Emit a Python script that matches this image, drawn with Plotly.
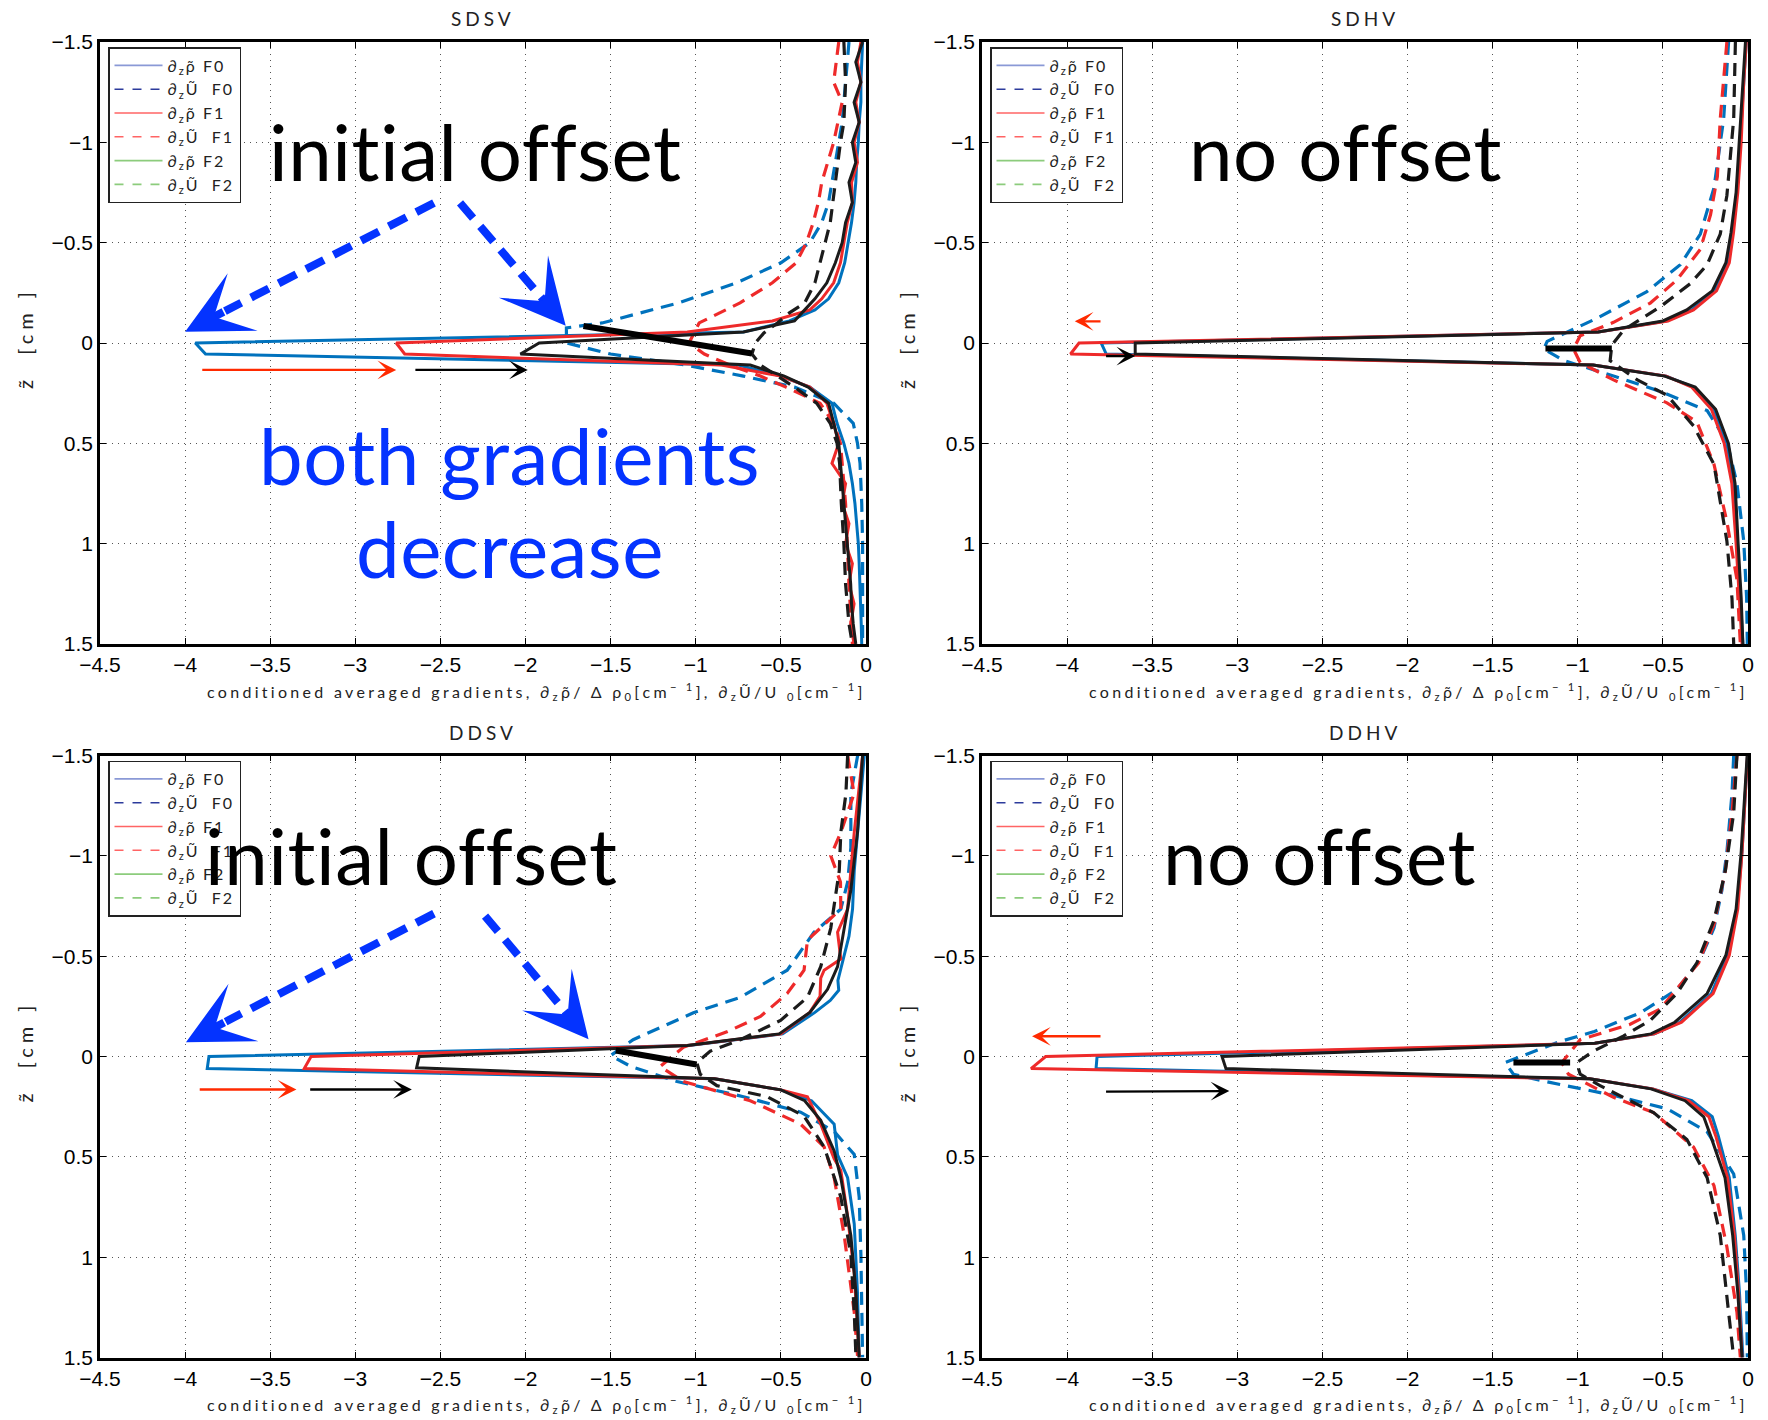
import plotly.graph_objects as go

# ---------------------------------------------------------------- styling
BLUE = '#0072bd'
RED = '#ee2a2a'
BLACK = '#1b1b1b'
ARROW_BLUE = '#0433ff'
ARROW_RED = '#ff2a00'
TEXT_FONT = 'Lato, DejaVu Sans, sans-serif'
TICK_FONT = 'Liberation Sans, Arial, sans-serif'

X_TICKS = [-4.5, -4, -3.5, -3, -2.5, -2, -1.5, -1, -0.5, 0]
Y_TICKS = [-1.5, -1, -0.5, 0, 0.5, 1, 1.5]

LEGEND_LABELS = ['∂<sub>z</sub>ρ̃ F0', '∂<sub>z</sub>Ũ\u00a0 F0', '∂<sub>z</sub>ρ̃ F1',
                 '∂<sub>z</sub>Ũ\u00a0 F1', '∂<sub>z</sub>ρ̃ F2', '∂<sub>z</sub>Ũ\u00a0 F2']
LEGEND_COLORS = ['#8a99d6', '#2c3b9c', '#ff6464', '#ff6464', '#8ccc7c', '#8ccc7c']
LEGEND_DASHES = ['solid', 'dash', 'solid', 'dash', 'solid', 'dash']

# ---------------------------------------------------------------- SDSV
SDSV_Z_RHO = [-1.5, -1.4, -1.3, -1.2, -1.1, -1.0, -0.9, -0.8, -0.7, -0.6, -0.5, -0.4, -0.3, -0.22,
              -0.165, -0.11, -0.055, 0.0, 0.055, 0.11, 0.165, 0.22, 0.3, 0.4, 0.5, 0.6, 0.7, 0.8,
              0.9, 1.0, 1.1, 1.2, 1.3, 1.4, 1.5]
SDSV_RHO_F0 = [-0.02, -0.025, -0.03, -0.03, -0.04, -0.045, -0.055, -0.06, -0.07, -0.085, -0.105,
               -0.125, -0.16, -0.22, -0.30, -0.45, -0.72, -3.94, -3.88, -0.75, -0.50, -0.33, -0.20,
               -0.17, -0.13, -0.10, -0.08, -0.065, -0.055, -0.045, -0.04, -0.035, -0.03, -0.028, -0.025]
SDSV_RHO_F1 = [-0.03, -0.05, -0.03, -0.06, -0.04, -0.07, -0.05, -0.085, -0.08, -0.11, -0.13, -0.15,
               -0.19, -0.26, -0.33, -0.55, -1.05, -2.76, -2.71, -0.85, -0.50, -0.33, -0.23, -0.19,
               -0.16, -0.20, -0.12, -0.14, -0.10, -0.12, -0.08, -0.10, -0.07, -0.09, -0.07]
SDSV_RHO_F2 = [-0.02, -0.06, -0.03, -0.07, -0.04, -0.08, -0.06, -0.10, -0.08, -0.12, -0.14, -0.18,
               -0.23, -0.30, -0.36, -0.42, -0.72, -1.92, -2.03, -0.68, -0.48, -0.34, -0.22, -0.19,
               -0.16, -0.15, -0.14, -0.13, -0.12, -0.11, -0.10, -0.09, -0.085, -0.075, -0.06]
SDSV_Z_U_F0 = [-1.5, -1.3, -1.1, -1.0, -0.9, -0.8, -0.7, -0.6, -0.5, -0.4, -0.3, -0.2, -0.1, -0.075,
               0.0, 0.055, 0.11, 0.165, 0.22, 0.3, 0.4, 0.5, 0.6, 0.8, 1.0, 1.2, 1.5]
SDSV_U_F0 = [-0.10, -0.12, -0.14, -0.16, -0.18, -0.20, -0.22, -0.26, -0.33, -0.50, -0.76, -1.10,
             -1.55, -1.76, -1.76, -1.50, -1.06, -0.72, -0.42, -0.19, -0.075, -0.05, -0.035, -0.025,
             -0.02, -0.02, -0.02]
SDSV_Z_U_F1 = [-1.5, -1.3, -1.2, -1.0, -0.8, -0.7, -0.6, -0.5, -0.4, -0.3, -0.2, -0.1, -0.05, 0.0,
               0.055, 0.11, 0.165, 0.22, 0.3, 0.4, 0.5, 0.6, 0.8, 1.0, 1.2, 1.5]
SDSV_U_F1 = [-0.16, -0.19, -0.14, -0.19, -0.26, -0.28, -0.31, -0.35, -0.41, -0.55, -0.74, -0.98,
             -1.01, -1.04, -0.95, -0.80, -0.62, -0.47, -0.27, -0.19, -0.15, -0.14, -0.12, -0.11,
             -0.10, -0.08]
SDSV_Z_U_F2 = [-1.5, -1.3, -1.1, -1.0, -0.8, -0.6, -0.5, -0.4, -0.3, -0.2, -0.15, -0.1, -0.05, 0.0,
               0.055, 0.11, 0.165, 0.22, 0.3, 0.4, 0.5, 0.6, 0.8, 1.0, 1.2, 1.4, 1.5]
SDSV_U_F2 = [-0.13, -0.12, -0.13, -0.15, -0.18, -0.21, -0.24, -0.27, -0.30, -0.36, -0.45, -0.52,
             -0.60, -0.65, -0.67, -0.62, -0.52, -0.42, -0.29, -0.21, -0.17, -0.155, -0.145, -0.13,
             -0.12, -0.10, -0.08]

# ---------------------------------------------------------------- SDHV
SDHV_Z_RHO = [-1.5, -1.3, -1.0, -0.75, -0.55, -0.4, -0.26, -0.165, -0.11, -0.055, 0.0, 0.055, 0.11,
              0.165, 0.22, 0.33, 0.5, 0.7, 1.0, 1.27, 1.5]
SDHV_RHO_F0 = [-0.01, -0.025, -0.045, -0.065, -0.094, -0.124, -0.2, -0.33, -0.48, -0.88, -3.80,
               -3.77, -0.91, -0.48, -0.32, -0.20, -0.125, -0.084, -0.062, -0.045, -0.03]
SDHV_RHO_F1 = [-0.01, -0.025, -0.04, -0.06, -0.085, -0.11, -0.185, -0.32, -0.47, -0.88, -3.93,
               -3.98, -0.91, -0.48, -0.33, -0.215, -0.14, -0.095, -0.07, -0.05, -0.035]
SDHV_RHO_F2 = [-0.015, -0.03, -0.05, -0.07, -0.10, -0.13, -0.21, -0.36, -0.50, -0.88, -3.60,
               -3.60, -0.91, -0.49, -0.31, -0.19, -0.115, -0.076, -0.058, -0.04, -0.03]
SDHV_Z_U_F0 = [-1.5, -1.117, -0.773, -0.543, -0.39, -0.256, -0.123, -0.008, 0.03, 0.088, 0.164,
               0.241, 0.337, 0.49, 0.70, 0.987, 1.27, 1.5]
SDHV_U_F0 = [-0.114, -0.143, -0.2, -0.28, -0.398, -0.594, -0.888, -1.18, -1.2, -1.08, -0.79,
             -0.516, -0.24, -0.124, -0.065, -0.025, -0.008, -0.004]
SDHV_Z_U_F1 = [-1.5, -1.117, -0.83, -0.64, -0.467, -0.314, -0.199, -0.103, -0.036, 0.03, 0.097,
               0.184, 0.298, 0.394, 0.604, 0.891, 1.178, 1.5]
SDHV_U_F1 = [-0.124, -0.163, -0.18, -0.22, -0.28, -0.418, -0.574, -0.79, -0.986, -1.025, -0.986,
             -0.79, -0.476, -0.30, -0.20, -0.124, -0.065, -0.045]
SDHV_Z_U_F2 = [-1.5, -1.117, -0.735, -0.543, -0.39, -0.295, -0.18, -0.065, 0.01, 0.088, 0.184,
               0.26, 0.413, 0.604, 0.987, 1.274, 1.5]
SDHV_U_F2 = [-0.074, -0.084, -0.124, -0.163, -0.24, -0.34, -0.516, -0.73, -0.80, -0.81, -0.65,
             -0.476, -0.32, -0.2, -0.124, -0.094, -0.084]

# ---------------------------------------------------------------- DDSV
DDSV_Z_RHO_F0 = [-1.5, -1.31, -1.117, -0.926, -0.735, -0.6, -0.43, -0.38, -0.33, -0.28, -0.22,
                 -0.113, -0.055, 0.0, 0.06, 0.111, 0.166, 0.22, 0.337, 0.49, 0.604, 0.834, 1.178, 1.5]
DDSV_RHO_F0 = [-0.01, -0.03, -0.05, -0.069, -0.079, -0.10, -0.15, -0.165, -0.16, -0.21, -0.30,
               -0.49, -1.04, -3.86, -3.87, -0.89, -0.50, -0.32, -0.187, -0.167, -0.108, -0.069,
               -0.05, -0.04]
DDSV_Z_RHO_F1 = [-1.5, -1.27, -1.117, -0.926, -0.735, -0.62, -0.486, -0.43, -0.39, -0.3, -0.22,
                 -0.113, -0.055, 0.0, 0.06, 0.111, 0.166, 0.2, 0.337, 0.51, 0.566, 0.796, 1.08, 1.5]
DDSV_RHO_F1 = [-0.02, -0.05, -0.069, -0.089, -0.108, -0.167, -0.148, -0.246, -0.266, -0.27, -0.33,
               -0.50, -1.05, -3.26, -3.30, -0.89, -0.50, -0.344, -0.266, -0.187, -0.148, -0.108,
               -0.069, -0.04]
DDSV_Z_RHO_F2 = [-1.5, -1.117, -0.83, -0.64, -0.448, -0.335, -0.22, -0.113, -0.055, 0.0, 0.056,
                 0.111, 0.166, 0.22, 0.318, 0.47, 0.604, 0.891, 1.178, 1.5]
DDSV_RHO_F2 = [-0.02, -0.05, -0.089, -0.128, -0.167, -0.226, -0.33, -0.51, -1.05, -2.625, -2.64,
               -0.89, -0.50, -0.36, -0.266, -0.187, -0.148, -0.089, -0.059, -0.04]
DDSV_Z_U_F0 = [-1.5, -1.31, -1.04, -0.869, -0.735, -0.62, -0.43, -0.295, -0.218, -0.084, -0.005,
               0.05, 0.124, 0.2, 0.277, 0.373, 0.488, 0.70, 0.987, 1.5]
DDSV_U_F0 = [-0.049, -0.089, -0.089, -0.108, -0.148, -0.305, -0.463, -0.738, -1.014, -1.368, -1.50,
             -1.38, -1.11, -0.72, -0.384, -0.187, -0.069, -0.04, -0.03, -0.02]
DDSV_Z_U_F1 = [-1.5, -1.31, -1.117, -1.0, -0.87, -0.735, -0.58, -0.43, -0.314, -0.2, -0.123,
               -0.046, 0.05, 0.124, 0.22, 0.337, 0.45, 0.604, 0.891, 1.274, 1.5]
DDSV_U_F1 = [-0.108, -0.07, -0.148, -0.207, -0.15, -0.148, -0.344, -0.364, -0.463, -0.62, -0.817,
             -1.073, -1.21, -1.073, -0.68, -0.384, -0.246, -0.187, -0.128, -0.069, -0.049]
DDSV_Z_U_F2 = [-1.5, -1.31, -1.117, -0.926, -0.64, -0.448, -0.295, -0.18, -0.084, -0.027, 0.03,
               0.088, 0.145, 0.2, 0.297, 0.45, 0.70, 0.987, 1.274, 1.5]
DDSV_U_F2 = [-0.108, -0.118, -0.148, -0.157, -0.207, -0.266, -0.344, -0.502, -0.738, -0.915,
             -0.994, -0.974, -0.876, -0.58, -0.364, -0.246, -0.148, -0.089, -0.069, -0.059]

# ---------------------------------------------------------------- DDHV
DDHV_Z_RHO = [-1.5, -1.31, -1.02, -0.735, -0.505, -0.314, -0.171, -0.113, -0.066, 0.0, 0.06, 0.111,
              0.161, 0.22, 0.3, 0.394, 0.604, 0.891, 1.178, 1.5]
DDHV_RHO_F0 = [-0.003, -0.016, -0.035, -0.065, -0.12, -0.215, -0.40, -0.55, -0.90, -3.824, -3.83,
               -0.93, -0.56, -0.33, -0.21, -0.175, -0.11, -0.075, -0.05, -0.03]
DDHV_RHO_F1 = [-0.003, -0.016, -0.035, -0.06, -0.11, -0.205, -0.39, -0.55, -0.90, -4.126, -4.212,
               -0.93, -0.56, -0.35, -0.23, -0.19, -0.12, -0.08, -0.055, -0.035]
DDHV_RHO_F2 = [-0.005, -0.02, -0.04, -0.07, -0.13, -0.24, -0.43, -0.57, -0.90, -3.09, -3.067,
               -0.93, -0.57, -0.37, -0.26, -0.22, -0.135, -0.09, -0.06, -0.035]
DDHV_Z_U_F0 = [-1.5, -1.31, -1.02, -0.83, -0.64, -0.486, -0.333, -0.218, -0.123, -0.075, 0.03,
               0.088, 0.126, 0.193, 0.26, 0.375, 0.585, 0.891, 1.178, 1.5]
DDHV_U_F0 = [-0.084, -0.094, -0.124, -0.153, -0.2, -0.28, -0.418, -0.633, -0.908, -1.104, -1.427,
             -1.378, -1.18, -0.79, -0.476, -0.24, -0.084, -0.025, -0.008, -0.004]
DDHV_Z_U_F1 = [-1.5, -1.213, -0.926, -0.658, -0.467, -0.237, -0.161, -0.084, 0.03, 0.088, 0.203,
               0.279, 0.451, 0.643, 0.949, 1.274, 1.5]
DDHV_U_F1 = [-0.065, -0.094, -0.133, -0.2, -0.29, -0.516, -0.692, -0.986, -1.094, -1.055, -0.79,
             -0.555, -0.32, -0.2, -0.124, -0.065, -0.045]
DDHV_Z_U_F2 = [-1.5, -1.213, -0.926, -0.677, -0.467, -0.314, -0.18, -0.103, -0.027, 0.03, 0.088,
               0.145, 0.279, 0.413, 0.604, 0.891, 1.274, 1.5]
DDHV_U_F2 = [-0.065, -0.084, -0.133, -0.2, -0.30, -0.418, -0.574, -0.73, -0.908, -1.006, -0.986,
             -0.869, -0.555, -0.359, -0.24, -0.163, -0.114, -0.084]

# markers drawn on top of the profiles: thick tip connector, small shift arrows
SDSV_TIP_LINE = [(-1.66, -0.085), (-0.67, 0.052)]
SDHV_TIP_LINE = [(-1.19, 0.027), (-0.80, 0.027)]
DDSV_TIP_LINE = [(-1.47, -0.03), (-0.995, 0.04)]
DDHV_TIP_LINE = [(-1.378, 0.03), (-1.045, 0.03)]

SDSV_SHIFT_RED = [(-3.908, 0.134), (-2.76, 0.134)]
SDSV_SHIFT_BLACK = [(-2.656, 0.134), (-1.987, 0.134)]
SDHV_SHIFT_RED = [(-3.795, -0.108), (-3.955, -0.108)]
SDHV_SHIFT_BLACK = [(-3.78, 0.065), (-3.60, 0.065)]
DDSV_SHIFT_RED = [(-3.923, 0.164), (-3.346, 0.164)]
DDSV_SHIFT_BLACK = [(-3.274, 0.164), (-2.668, 0.164)]
DDHV_SHIFT_RED = [(-3.795, -0.101), (-4.206, -0.101)]
DDHV_SHIFT_BLACK = [(-3.78, 0.175), (-3.047, 0.172)]

SDSV_POINTERS = [[(-2.538, -0.698), (-4.0, -0.056)], [(-2.385, -0.698), (-1.764, -0.086)]]
DDSV_POINTERS = [[(-2.538, -0.712), (-3.995, -0.071)], [(-2.238, -0.70), (-1.63, -0.086)]]

FIG_W, FIG_H = 1768, 1420
# plot-area boxes in pixels: left, right, top, bottom
PANELS = [
    dict(title='SDSV', box=(100, 866, 42, 644), xa='x', ya='y', legend='legend',
         rho=[(SDSV_Z_RHO, SDSV_RHO_F0), (SDSV_Z_RHO, SDSV_RHO_F1), (SDSV_Z_RHO, SDSV_RHO_F2)],
         u=[(SDSV_Z_U_F0, SDSV_U_F0), (SDSV_Z_U_F1, SDSV_U_F1), (SDSV_Z_U_F2, SDSV_U_F2)],
         tip=SDSV_TIP_LINE, red=SDSV_SHIFT_RED, black=SDSV_SHIFT_BLACK, pointers=SDSV_POINTERS),
    dict(title='SDHV', box=(982, 1748, 42, 644), xa='x2', ya='y2', legend='legend2',
         rho=[(SDHV_Z_RHO, SDHV_RHO_F0), (SDHV_Z_RHO, SDHV_RHO_F1), (SDHV_Z_RHO, SDHV_RHO_F2)],
         u=[(SDHV_Z_U_F0, SDHV_U_F0), (SDHV_Z_U_F1, SDHV_U_F1), (SDHV_Z_U_F2, SDHV_U_F2)],
         tip=SDHV_TIP_LINE, red=SDHV_SHIFT_RED, black=SDHV_SHIFT_BLACK, pointers=[]),
    dict(title='DDSV', box=(100, 866, 755.5, 1357.6), xa='x3', ya='y3', legend='legend3',
         rho=[(DDSV_Z_RHO_F0, DDSV_RHO_F0), (DDSV_Z_RHO_F1, DDSV_RHO_F1), (DDSV_Z_RHO_F2, DDSV_RHO_F2)],
         u=[(DDSV_Z_U_F0, DDSV_U_F0), (DDSV_Z_U_F1, DDSV_U_F1), (DDSV_Z_U_F2, DDSV_U_F2)],
         tip=DDSV_TIP_LINE, red=DDSV_SHIFT_RED, black=DDSV_SHIFT_BLACK, pointers=DDSV_POINTERS),
    dict(title='DDHV', box=(982, 1748, 755.5, 1357.6), xa='x4', ya='y4', legend='legend4',
         rho=[(DDHV_Z_RHO, DDHV_RHO_F0), (DDHV_Z_RHO, DDHV_RHO_F1), (DDHV_Z_RHO, DDHV_RHO_F2)],
         u=[(DDHV_Z_U_F0, DDHV_U_F0), (DDHV_Z_U_F1, DDHV_U_F1), (DDHV_Z_U_F2, DDHV_U_F2)],
         tip=DDHV_TIP_LINE, red=DDHV_SHIFT_RED, black=DDHV_SHIFT_BLACK, pointers=[]),
]

# large explanatory labels: text, colour, centre x (px), centre y (px)
BIG_LABELS = [
    ('initial offset', 'black', 475, 151),
    ('both gradients', ARROW_BLUE, 510, 455),
    ('decrease', ARROW_BLUE, 510, 548),
    ('no offset', 'black', 1345, 151),
    ('initial offset', 'black', 411, 855),
    ('no offset', 'black', 1319, 855),
]

X_LABEL = ('conditioned averaged gradients, ∂<sub>z</sub>ρ̃/ Δ ρ<sub>0</sub>[cm<sup>− 1</sup>], '
           '∂<sub>z</sub>Ũ/U <sub>0</sub>[cm<sup>− 1</sup>]')
Y_LABEL = 'z̃  [cm ]'

CURVE_COLORS = [BLUE, RED, BLACK]


def spaced(text, px):
    """Wrap text in a letter-spaced span."""
    return f'<span style="letter-spacing:{px}px">{text}</span>'


def px_x(v):
    return v / FIG_W


def px_y(v):
    return 1 - v / FIG_H


fig = go.Figure()
layout = dict(width=FIG_W, height=FIG_H, margin=dict(l=0, r=0, t=0, b=0, autoexpand=False),
              paper_bgcolor='white', plot_bgcolor='white', showlegend=True)
annotations = []
shapes = []

for p in PANELS:
    left, right, top, bottom = p['box']
    xa, ya = p['xa'], p['ya']
    xkey = 'xaxis' + xa[1:]
    ykey = 'yaxis' + ya[1:]
    axis_common = dict(showline=True, linecolor='black', linewidth=2.5, mirror='ticks',
                       ticks='inside', ticklen=6, tickwidth=1, tickcolor='black',
                       showgrid=True, gridcolor='#555555', gridwidth=1, griddash='1px,5px',
                       zeroline=False, automargin=False,
                       tickfont=dict(family=TICK_FONT, size=21, color='black'))
    layout[xkey] = dict(axis_common, domain=[px_x(left), px_x(right)], anchor=ya,
                        range=[-4.5, 0], tickvals=X_TICKS)
    layout[ykey] = dict(axis_common, domain=[px_y(bottom), px_y(top)], anchor=xa,
                        range=[1.5, -1.5], tickvals=Y_TICKS)

    # profiles: density gradient (solid) and velocity gradient (dashed) per case
    for i, color in enumerate(CURVE_COLORS):
        zr, xr = p['rho'][i]
        zu, xu = p['u'][i]
        fig.add_trace(go.Scatter(x=xr, y=zr, mode='lines', xaxis=xa, yaxis=ya, showlegend=False,
                                 line=dict(color=color, width=3)))
        fig.add_trace(go.Scatter(x=xu, y=zu, mode='lines', xaxis=xa, yaxis=ya, showlegend=False,
                                 line=dict(color=color, width=3.2, dash='13px,8px')))

    # legend entries
    for lab, col, dsh in zip(LEGEND_LABELS, LEGEND_COLORS, LEGEND_DASHES):
        fig.add_trace(go.Scatter(x=[None], y=[None], mode='lines', xaxis=xa, yaxis=ya,
                                 name=spaced(lab, 2), legend=p['legend'],
                                 line=dict(color=col, width=1.6, dash=dsh)))
    layout[p['legend']] = dict(x=px_x(left + 8), y=px_y(top + 5), xanchor='left', yanchor='top',
                               bgcolor='white', bordercolor='#222222', borderwidth=1.5,
                               font=dict(family=TEXT_FONT, size=16, color='#222222'),
                               tracegroupgap=0, itemwidth=48)

    # thick connector between the velocity-gradient tips
    (tx0, ty0), (tx1, ty1) = p['tip']
    shapes.append(dict(type='line', xref=xa, yref=ya, x0=tx0, y0=ty0, x1=tx1, y1=ty1,
                       line=dict(color='black', width=6)))

    # small shift arrows
    for seg, col in ((p['red'], ARROW_RED), (p['black'], 'black')):
        (sx, sy), (ex, ey) = seg
        annotations.append(dict(x=ex, y=ey, ax=sx, ay=sy, xref=xa, yref=ya, axref=xa, ayref=ya,
                                text='', showarrow=True, arrowhead=3, arrowsize=1.3,
                                arrowwidth=2.4, arrowcolor=col, standoff=0))

    # dashed pointers to the spike tips
    for (sx, sy), (ex, ey) in p['pointers']:
        hx = ex + 0.16 * (sx - ex)
        hy = ey + 0.16 * (sy - ey)
        shapes.append(dict(type='line', xref=xa, yref=ya, x0=sx, y0=sy, x1=hx, y1=hy,
                           line=dict(color=ARROW_BLUE, width=8, dash='20px,11px')))
        annotations.append(dict(x=ex, y=ey, ax=hx, ay=hy, xref=xa, yref=ya, axref=xa, ayref=ya,
                                text='', showarrow=True, arrowhead=3, arrowsize=1.35,
                                arrowwidth=8, arrowcolor=ARROW_BLUE, standoff=0))

    cx = (left + right) / 2
    annotations.append(dict(text=spaced(p['title'], 4), xref='paper', yref='paper', x=px_x(cx),
                            y=px_y(top - 23), xanchor='center', yanchor='middle', showarrow=False,
                            font=dict(family=TEXT_FONT, size=19, color='#222222')))
    annotations.append(dict(text=spaced(X_LABEL, 3.3), xref='paper', yref='paper',
                            x=px_x(cx + 53), y=px_y(bottom + 47), xanchor='center',
                            yanchor='middle', showarrow=False,
                            font=dict(family=TEXT_FONT, size=16, color='#222222')))
    annotations.append(dict(text=spaced(Y_LABEL, 5), xref='paper', yref='paper', x=px_x(left - 75),
                            y=px_y((top + bottom) / 2 - 5), xanchor='center', yanchor='middle',
                            textangle=-90, showarrow=False,
                            font=dict(family=TEXT_FONT, size=20, color='#222222')))

for text, col, cx, cy in BIG_LABELS:
    annotations.append(dict(text=spaced(text, 0.5), xref='paper', yref='paper', x=px_x(cx),
                            y=px_y(cy), xanchor='center', yanchor='middle', showarrow=False,
                            font=dict(family=TEXT_FONT, size=78, color=col)))

layout['annotations'] = annotations
layout['shapes'] = shapes
fig.update_layout(**layout)
fig.write_html('out.html')
